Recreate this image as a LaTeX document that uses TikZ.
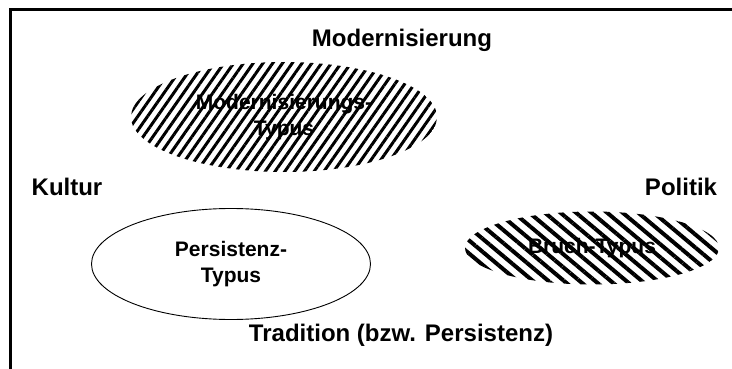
\documentclass[tikz,border=0pt]{standalone}
\usepackage{fontspec}
\setmainfont{Liberation Sans}
\usepackage{tikz}
\usetikzlibrary{shapes.geometric, patterns.meta}

\begin{document}
\begin{tikzpicture}[x=1pt, y=-1pt,
    axislabel/.style={font=\bfseries\fontsize{24}{28}\selectfont, inner sep=0pt},
    typlabel/.style={font=\bfseries\fontsize{21}{26}\selectfont, align=center},
    typhatch/.style={ellipse, inner sep=0pt, pattern={Lines[angle=55, distance=8pt, line width=3pt]}},
    typbruch/.style={ellipse, inner sep=0pt, pattern={Lines[angle=-40, distance=10pt, line width=4pt]}},
    typplain/.style={ellipse, inner sep=0pt, draw, line width=0.9pt, fill=white}]
    \useasboundingbox (0,0) rectangle (732,369);

    % Frame
    \draw[line width=3pt] (10,369) -- (10,10) -- (732,10);

    % Axes
    \node[axislabel, anchor=base] (modern) at (402,47) {Modernisierung};
    \node[axislabel, anchor=base] (kultur) at (67,195) {Kultur};
    \node[axislabel, anchor=base] (politik) at (681,195) {Politik};
    \node[axislabel, anchor=base] (tradition) at (401,341) {Tradition (bzw. Persistenz)};

    % Types
    \node[typhatch, typlabel, minimum width=306, minimum height=110] (modtyp) at (284,117)
      {Modernisierungs-\\Typus};
    \node[typplain, typlabel, minimum width=279, minimum height=111] (pertyp) at (231,264)
      {Persistenz-\\Typus};
    \node[typbruch, typlabel, minimum width=254, minimum height=73] (brutyp) at (592,248)
      {Bruch-Typus};
\end{tikzpicture}
\end{document}
